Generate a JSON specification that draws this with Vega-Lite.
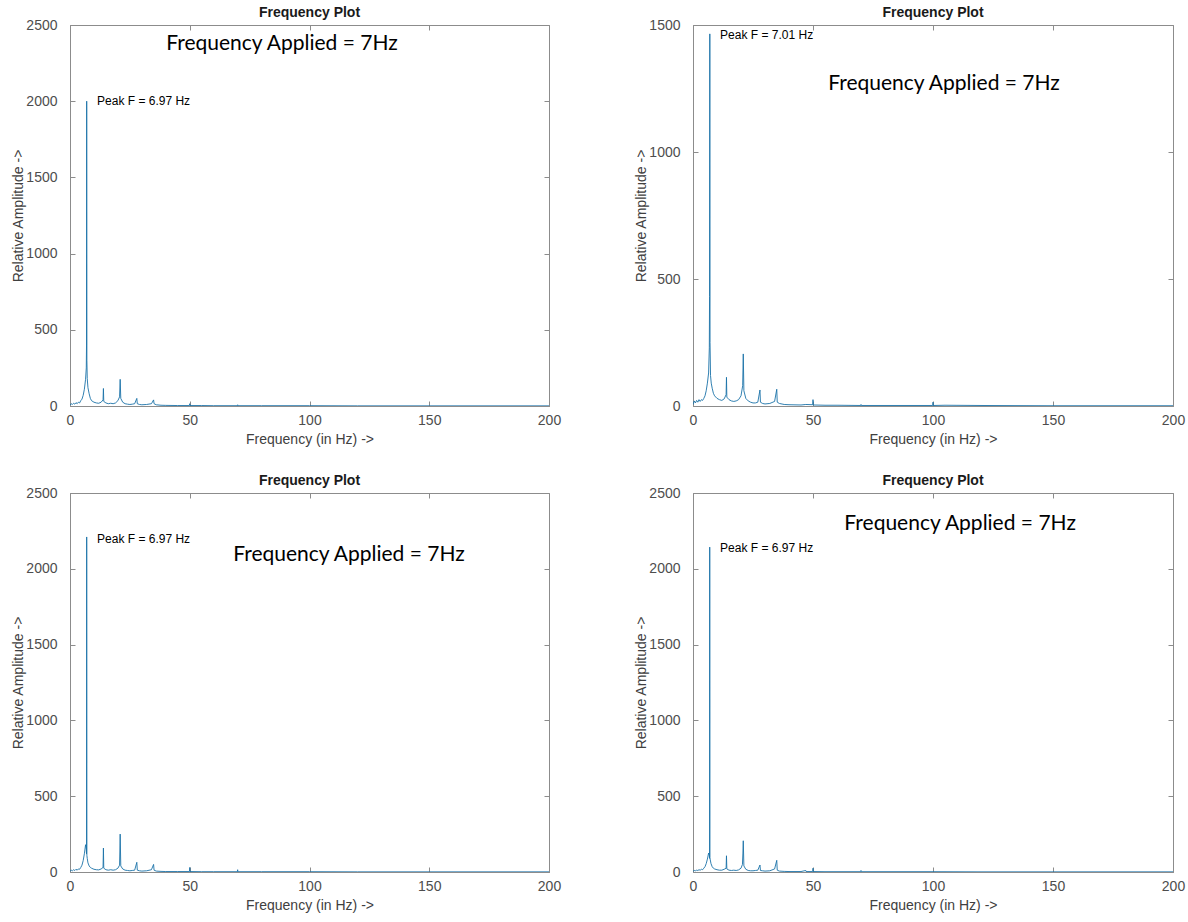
{
  "$schema": "https://vega.github.io/schema/vega-lite/v6.json",
  "padding": {"left": 11, "top": 5, "right": 2, "bottom": 2},
  "background": "white",
  "spacing": 26,
  "config": {
    "view": {"stroke": "#8c8c8c", "strokeWidth": 1},
    "axis": {
      "labelFont": "Liberation Sans", "labelFontSize": 14, "labelColor": "#4d4d4d", "labelFlush": false,
      "titleFont": "Liberation Sans", "titleFontSize": 14, "titleFontWeight": "normal", "titleColor": "#404040",
      "domainColor": "#8c8c8c", "tickColor": "#8c8c8c", "tickSize": -5, "grid": false, "format": "d"
    },
    "title": {"font": "Liberation Sans", "fontSize": 14, "fontWeight": "bold", "color": "#1a1a1a", "offset": -2}
  },
  "datasets": {
    "p1": [{"f":0,"a":5},{"f":0.5,"a":15},{"f":1,"a":10},{"f":1.5,"a":18},{"f":2,"a":12},{"f":2.5,"a":22},{"f":3,"a":15},{"f":3.5,"a":25},{"f":4,"a":20},{"f":4.5,"a":35},{"f":5,"a":45},{"f":5.5,"a":70},{"f":6,"a":110},{"f":6.5,"a":175},{"f":6.8,"a":250},{"f":6.9,"a":400},{"f":6.97,"a":2000},{"f":7.05,"a":300},{"f":7.2,"a":180},{"f":7.5,"a":120},{"f":8,"a":80},{"f":8.5,"a":50},{"f":9,"a":35},{"f":10,"a":25},{"f":11,"a":20},{"f":12,"a":18},{"f":13,"a":25},{"f":13.8,"a":40},{"f":13.95,"a":115},{"f":14.1,"a":30},{"f":15,"a":20},{"f":16,"a":15},{"f":17,"a":18},{"f":18,"a":15},{"f":19,"a":20},{"f":20,"a":35},{"f":20.7,"a":60},{"f":20.95,"a":175},{"f":21.2,"a":50},{"f":22,"a":25},{"f":23,"a":15},{"f":24,"a":12},{"f":25,"a":10},{"f":26,"a":12},{"f":27,"a":15},{"f":27.9,"a":50},{"f":28.1,"a":15},{"f":29,"a":10},{"f":30,"a":8},{"f":32,"a":10},{"f":34,"a":15},{"f":34.9,"a":40},{"f":35.1,"a":15},{"f":36,"a":8},{"f":38,"a":5},{"f":40,"a":4},{"f":45,"a":3},{"f":49.9,"a":3},{"f":50,"a":15},{"f":50.1,"a":3},{"f":55,"a":3},{"f":60,"a":2},{"f":69.9,"a":2},{"f":70,"a":8},{"f":70.1,"a":2},{"f":80,"a":2},{"f":100,"a":2},{"f":120,"a":1},{"f":150,"a":1},{"f":200,"a":1}],
    "p2": [{"f":0,"a":5},{"f":0.5,"a":20},{"f":1,"a":12},{"f":1.5,"a":22},{"f":2,"a":15},{"f":2.5,"a":25},{"f":3,"a":18},{"f":3.5,"a":25},{"f":4,"a":22},{"f":4.5,"a":30},{"f":5,"a":40},{"f":5.5,"a":60},{"f":6,"a":90},{"f":6.5,"a":130},{"f":6.8,"a":229},{"f":6.9,"a":431},{"f":7.01,"a":1465},{"f":7.1,"a":250},{"f":7.3,"a":120},{"f":7.6,"a":90},{"f":8,"a":70},{"f":8.5,"a":50},{"f":9,"a":40},{"f":10,"a":30},{"f":11,"a":25},{"f":12,"a":22},{"f":13,"a":28},{"f":13.8,"a":45},{"f":13.95,"a":113},{"f":14.1,"a":35},{"f":15,"a":25},{"f":16,"a":20},{"f":17,"a":18},{"f":18,"a":20},{"f":19,"a":25},{"f":20,"a":40},{"f":20.7,"a":80},{"f":20.95,"a":205},{"f":21.2,"a":60},{"f":22,"a":30},{"f":23,"a":20},{"f":24,"a":15},{"f":25,"a":12},{"f":26,"a":12},{"f":27,"a":15},{"f":27.9,"a":63},{"f":28.1,"a":15},{"f":29,"a":10},{"f":30,"a":8},{"f":32,"a":10},{"f":34,"a":18},{"f":34.9,"a":66},{"f":35.1,"a":15},{"f":36,"a":10},{"f":38,"a":6},{"f":40,"a":5},{"f":45,"a":4},{"f":47,"a":6},{"f":49.9,"a":5},{"f":50,"a":25},{"f":50.1,"a":4},{"f":55,"a":3},{"f":60,"a":3},{"f":69.9,"a":2},{"f":70,"a":6},{"f":70.1,"a":2},{"f":80,"a":2},{"f":99.9,"a":2},{"f":100,"a":15},{"f":100.1,"a":2},{"f":105,"a":3},{"f":120,"a":2},{"f":150,"a":1},{"f":200,"a":1}],
    "p3": [{"f":0,"a":5},{"f":0.5,"a":12},{"f":1,"a":8},{"f":1.5,"a":15},{"f":2,"a":10},{"f":2.5,"a":18},{"f":3,"a":12},{"f":3.5,"a":20},{"f":4,"a":18},{"f":4.5,"a":30},{"f":5,"a":45},{"f":5.5,"a":75},{"f":6,"a":120},{"f":6.5,"a":180},{"f":6.8,"a":150},{"f":6.9,"a":120},{"f":6.97,"a":2210},{"f":7.05,"a":110},{"f":7.2,"a":90},{"f":7.5,"a":60},{"f":8,"a":40},{"f":8.5,"a":30},{"f":9,"a":25},{"f":10,"a":18},{"f":11,"a":15},{"f":12,"a":14},{"f":13,"a":20},{"f":13.8,"a":30},{"f":13.95,"a":158},{"f":14.1,"a":25},{"f":15,"a":15},{"f":16,"a":12},{"f":17,"a":15},{"f":18,"a":12},{"f":19,"a":15},{"f":20,"a":25},{"f":20.7,"a":45},{"f":20.95,"a":250},{"f":21.2,"a":40},{"f":22,"a":20},{"f":23,"a":12},{"f":24,"a":10},{"f":25,"a":8},{"f":26,"a":10},{"f":27,"a":12},{"f":27.9,"a":64},{"f":28.1,"a":12},{"f":29,"a":8},{"f":30,"a":6},{"f":32,"a":8},{"f":34,"a":15},{"f":34.9,"a":50},{"f":35.1,"a":12},{"f":36,"a":6},{"f":38,"a":4},{"f":40,"a":3},{"f":45,"a":3},{"f":49.9,"a":3},{"f":50,"a":30},{"f":50.1,"a":3},{"f":55,"a":2},{"f":60,"a":2},{"f":69.9,"a":2},{"f":70,"a":15},{"f":70.1,"a":2},{"f":80,"a":2},{"f":100,"a":2},{"f":120,"a":1},{"f":150,"a":1},{"f":200,"a":1}],
    "p4": [{"f":0,"a":5},{"f":0.5,"a":10},{"f":1,"a":8},{"f":1.5,"a":12},{"f":2,"a":10},{"f":2.5,"a":15},{"f":3,"a":12},{"f":3.5,"a":18},{"f":4,"a":15},{"f":4.5,"a":25},{"f":5,"a":35},{"f":5.5,"a":55},{"f":6,"a":85},{"f":6.5,"a":125},{"f":6.8,"a":110},{"f":6.9,"a":90},{"f":6.97,"a":2143},{"f":7.05,"a":95},{"f":7.2,"a":80},{"f":7.5,"a":55},{"f":8,"a":35},{"f":8.5,"a":25},{"f":9,"a":20},{"f":10,"a":15},{"f":11,"a":12},{"f":12,"a":12},{"f":13,"a":18},{"f":13.8,"a":25},{"f":13.95,"a":107},{"f":14.1,"a":20},{"f":15,"a":12},{"f":16,"a":10},{"f":17,"a":12},{"f":18,"a":10},{"f":19,"a":14},{"f":20,"a":25},{"f":20.6,"a":50},{"f":20.8,"a":125},{"f":20.95,"a":206},{"f":21.2,"a":40},{"f":22,"a":18},{"f":23,"a":10},{"f":24,"a":8},{"f":25,"a":8},{"f":26,"a":10},{"f":27,"a":12},{"f":27.9,"a":46},{"f":28.1,"a":10},{"f":29,"a":8},{"f":30,"a":6},{"f":32,"a":8},{"f":34,"a":20},{"f":34.9,"a":77},{"f":35.1,"a":12},{"f":36,"a":6},{"f":38,"a":4},{"f":40,"a":3},{"f":45,"a":3},{"f":47,"a":10},{"f":47.1,"a":3},{"f":49.9,"a":3},{"f":50,"a":25},{"f":50.1,"a":3},{"f":55,"a":2},{"f":60,"a":2},{"f":69.9,"a":2},{"f":70,"a":10},{"f":70.1,"a":2},{"f":80,"a":2},{"f":100,"a":2},{"f":120,"a":1},{"f":150,"a":1},{"f":200,"a":1}]
  },
  "vconcat": [
    {
      "spacing": 72,
      "hconcat": [
        {
          "width": 479, "height": 381,
          "title": "Frequency Plot",
          "layer": [
            {"data": {"name": "p1"}, "mark": {"type": "line", "color": "#1a72a8", "strokeWidth": 0.9, "clip": true},
             "encoding": {
               "x": {"field": "f", "type": "quantitative", "scale": {"domain": [0, 200], "nice": false}, "axis": {"values": [0,50,100,150,200], "format": "d", "title": "Frequency (in Hz) ->", "labelPadding": 12, "titlePadding": 5}},
               "y": {"field": "a", "type": "quantitative", "scale": {"domain": [0, 2500], "nice": false}, "axis": {"values": [0,500,1000,1500,2000,2500], "format": "d", "title": "Relative Amplitude ->", "labelPadding": 18, "titlePadding": 0}}
             }},
            {"data": {"values": [{"f": 11.3, "a": 2000, "t": "Peak F = 6.97 Hz"}]}, "mark": {"type": "text", "align": "left", "baseline": "middle", "font": "Liberation Sans", "fontSize": 12, "color": "#000"},
             "encoding": {
               "x": {"field": "f", "type": "quantitative", "axis": {"orient": "top", "values": [0,50,100,150,200], "labels": false, "title": null, "domain": false}},
               "y": {"field": "a", "type": "quantitative", "axis": {"orient": "right", "values": [0,500,1000,1500,2000,2500], "labels": false, "title": null, "domain": false}},
               "text": {"field": "t"}
             }},
            {"data": {"values": [{"f": 88.5, "a": 2375, "t": "Frequency Applied = 7Hz"}]}, "mark": {"type": "text", "align": "center", "baseline": "middle", "font": "Lato", "fontSize": 21, "color": "#000"},
             "encoding": {
               "x": {"field": "f", "type": "quantitative", "axis": null},
               "y": {"field": "a", "type": "quantitative", "axis": null},
               "text": {"field": "t"}
             }}
          ],
          "resolve": {"axis": {"x": "independent", "y": "independent"}}
        },
        {
          "width": 480, "height": 381,
          "title": "Frequency Plot",
          "layer": [
            {"data": {"name": "p2"}, "mark": {"type": "line", "color": "#1a72a8", "strokeWidth": 0.9, "clip": true},
             "encoding": {
               "x": {"field": "f", "type": "quantitative", "scale": {"domain": [0, 200], "nice": false}, "axis": {"values": [0,50,100,150,200], "format": "d", "title": "Frequency (in Hz) ->", "labelPadding": 12, "titlePadding": 5}},
               "y": {"field": "a", "type": "quantitative", "scale": {"domain": [0, 1500], "nice": false}, "axis": {"values": [0,500,1000,1500], "format": "d", "title": "Relative Amplitude ->", "labelPadding": 18, "titlePadding": 0}}
             }},
            {"data": {"values": [{"f": 11.3, "a": 1461, "t": "Peak F = 7.01 Hz"}]}, "mark": {"type": "text", "align": "left", "baseline": "middle", "font": "Liberation Sans", "fontSize": 12, "color": "#000"},
             "encoding": {
               "x": {"field": "f", "type": "quantitative", "axis": {"orient": "top", "values": [0,50,100,150,200], "labels": false, "title": null, "domain": false}},
               "y": {"field": "a", "type": "quantitative", "axis": {"orient": "right", "values": [0,500,1000,1500], "labels": false, "title": null, "domain": false}},
               "text": {"field": "t"}
             }},
            {"data": {"values": [{"f": 104.6, "a": 1267, "t": "Frequency Applied = 7Hz"}]}, "mark": {"type": "text", "align": "center", "baseline": "middle", "font": "Lato", "fontSize": 21, "color": "#000"},
             "encoding": {
               "x": {"field": "f", "type": "quantitative", "axis": null},
               "y": {"field": "a", "type": "quantitative", "axis": null},
               "text": {"field": "t"}
             }}
          ],
          "resolve": {"axis": {"x": "independent", "y": "independent"}}
        }
      ]
    },
    {
      "spacing": 72,
      "hconcat": [
        {
          "width": 479, "height": 379,
          "title": "Frequency Plot",
          "layer": [
            {"data": {"name": "p3"}, "mark": {"type": "line", "color": "#1a72a8", "strokeWidth": 0.9, "clip": true},
             "encoding": {
               "x": {"field": "f", "type": "quantitative", "scale": {"domain": [0, 200], "nice": false}, "axis": {"values": [0,50,100,150,200], "format": "d", "title": "Frequency (in Hz) ->", "labelPadding": 12, "titlePadding": 5}},
               "y": {"field": "a", "type": "quantitative", "scale": {"domain": [0, 2500], "nice": false}, "axis": {"values": [0,500,1000,1500,2000,2500], "format": "d", "title": "Relative Amplitude ->", "labelPadding": 18, "titlePadding": 0}}
             }},
            {"data": {"values": [{"f": 11.3, "a": 2195, "t": "Peak F = 6.97 Hz"}]}, "mark": {"type": "text", "align": "left", "baseline": "middle", "font": "Liberation Sans", "fontSize": 12, "color": "#000"},
             "encoding": {
               "x": {"field": "f", "type": "quantitative", "axis": {"orient": "top", "values": [0,50,100,150,200], "labels": false, "title": null, "domain": false}},
               "y": {"field": "a", "type": "quantitative", "axis": {"orient": "right", "values": [0,500,1000,1500,2000,2500], "labels": false, "title": null, "domain": false}},
               "text": {"field": "t"}
             }},
            {"data": {"values": [{"f": 116.5, "a": 2090, "t": "Frequency Applied = 7Hz"}]}, "mark": {"type": "text", "align": "center", "baseline": "middle", "font": "Lato", "fontSize": 21, "color": "#000"},
             "encoding": {
               "x": {"field": "f", "type": "quantitative", "axis": null},
               "y": {"field": "a", "type": "quantitative", "axis": null},
               "text": {"field": "t"}
             }}
          ],
          "resolve": {"axis": {"x": "independent", "y": "independent"}}
        },
        {
          "width": 480, "height": 379,
          "title": "Frequency Plot",
          "layer": [
            {"data": {"name": "p4"}, "mark": {"type": "line", "color": "#1a72a8", "strokeWidth": 0.9, "clip": true},
             "encoding": {
               "x": {"field": "f", "type": "quantitative", "scale": {"domain": [0, 200], "nice": false}, "axis": {"values": [0,50,100,150,200], "format": "d", "title": "Frequency (in Hz) ->", "labelPadding": 12, "titlePadding": 5}},
               "y": {"field": "a", "type": "quantitative", "scale": {"domain": [0, 2500], "nice": false}, "axis": {"values": [0,500,1000,1500,2000,2500], "format": "d", "title": "Relative Amplitude ->", "labelPadding": 18, "titlePadding": 0}}
             }},
            {"data": {"values": [{"f": 11.3, "a": 2137, "t": "Peak F = 6.97 Hz"}]}, "mark": {"type": "text", "align": "left", "baseline": "middle", "font": "Liberation Sans", "fontSize": 12, "color": "#000"},
             "encoding": {
               "x": {"field": "f", "type": "quantitative", "axis": {"orient": "top", "values": [0,50,100,150,200], "labels": false, "title": null, "domain": false}},
               "y": {"field": "a", "type": "quantitative", "axis": {"orient": "right", "values": [0,500,1000,1500,2000,2500], "labels": false, "title": null, "domain": false}},
               "text": {"field": "t"}
             }},
            {"data": {"values": [{"f": 111.3, "a": 2295, "t": "Frequency Applied = 7Hz"}]}, "mark": {"type": "text", "align": "center", "baseline": "middle", "font": "Lato", "fontSize": 21, "color": "#000"},
             "encoding": {
               "x": {"field": "f", "type": "quantitative", "axis": null},
               "y": {"field": "a", "type": "quantitative", "axis": null},
               "text": {"field": "t"}
             }}
          ],
          "resolve": {"axis": {"x": "independent", "y": "independent"}}
        }
      ]
    }
  ]
}
